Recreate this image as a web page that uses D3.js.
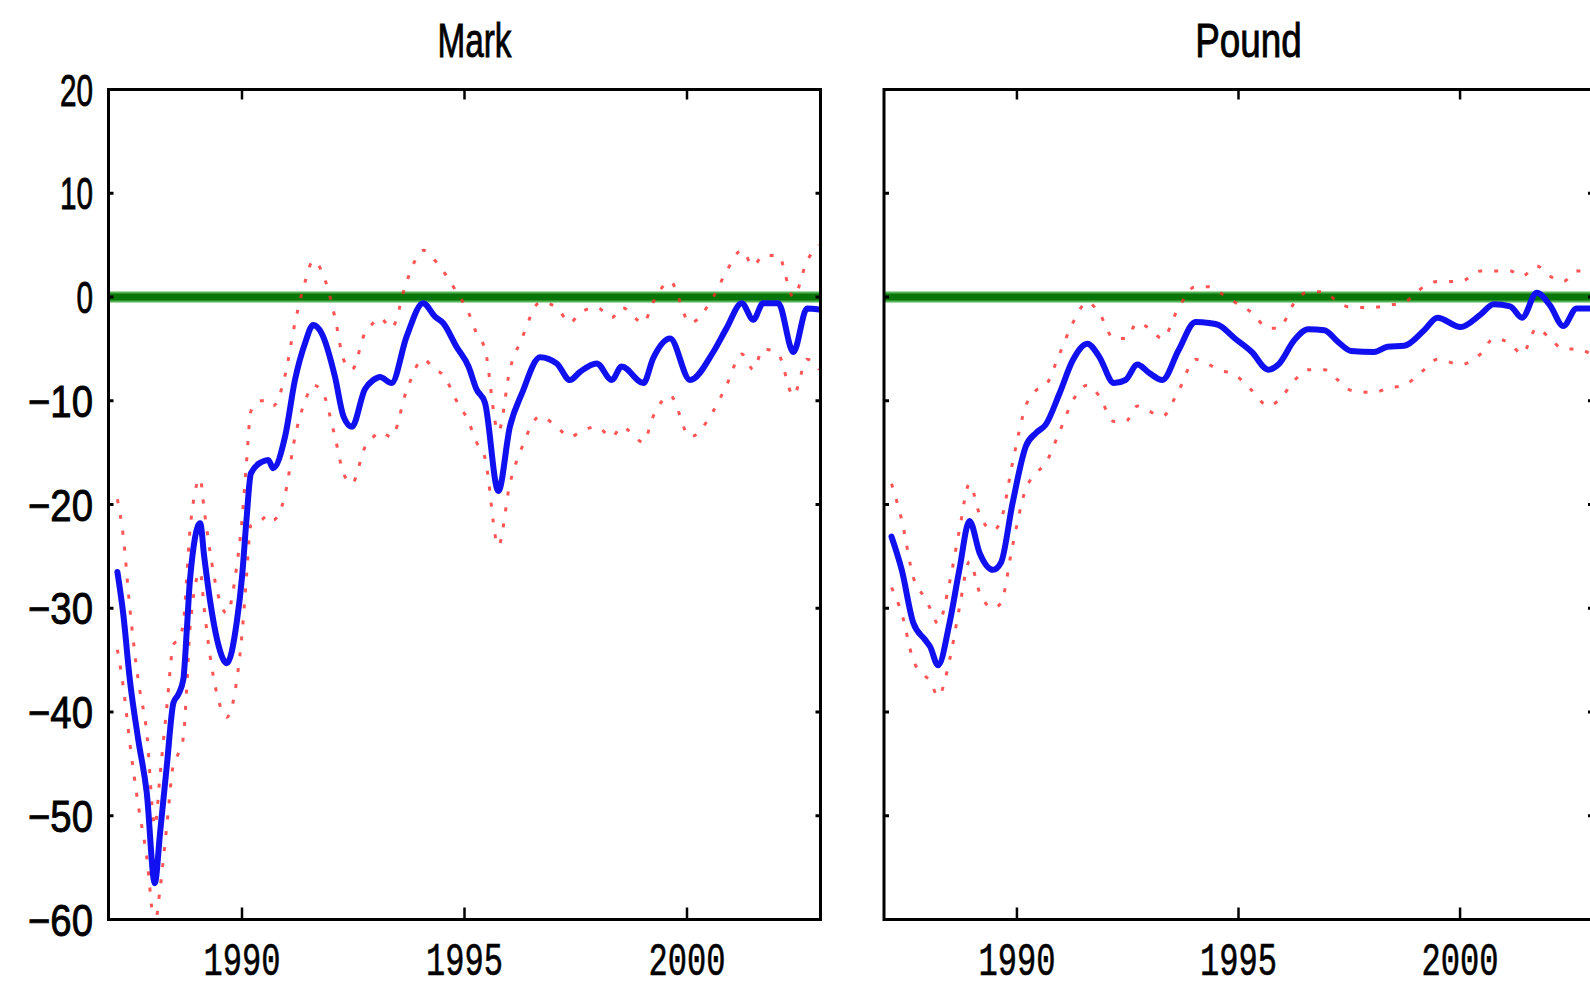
<!DOCTYPE html>
<html>
<head>
<meta charset="utf-8">
<script src="https://cdn.jsdelivr.net/npm/d3@7"></script>
<style>
  html, body { margin: 0; padding: 0; background: #fff; overflow: hidden; }
  svg { display: block; }
</style>
</head>
<body>
<div id="chart"></div>
<script>
// ---- data ----
const yTicks = [20, 10, 0, -10, -20, -30, -40, -50, -60];
const xTicks = [1990, 1995, 2000];
const titles = ["Mark", "Pound"];

const markYears = [1987.2, 1987.33, 1987.48, 1987.67, 1987.86, 1988.04, 1988.16, 1988.31, 1988.46, 1988.57,
    1988.68, 1988.76, 1988.83, 1989.06, 1989.15, 1989.28, 1989.45, 1989.66, 1989.88, 1990.0,
    1990.1, 1990.2, 1990.44, 1990.59, 1990.7, 1990.97, 1991.19, 1991.42, 1991.6, 1991.79,
    1992.09, 1992.28, 1992.47, 1992.76, 1992.95, 1993.1, 1993.36, 1993.7, 1994.07, 1994.34,
    1994.52, 1994.82, 1995.09, 1995.27, 1995.46, 1995.76, 1996.02, 1996.29, 1996.7, 1997.07,
    1997.37, 1997.6, 1997.97, 1998.31, 1998.53, 1999.02, 1999.24, 1999.62, 2000.07, 2000.59,
    2000.89, 2001.23, 2001.49, 2001.71, 2002.05, 2002.39, 2002.7, 2002.96];
const markMid = [-26.5, -30.5, -36.9, -42.7, -47.8, -56.5, -51.6, -45.2, -39.1, -38.3,
    -36.9, -32.1, -27.3, -21.8, -25, -29.2, -33.2, -35.3, -31.4, -27,
    -21.5, -17, -15.9, -15.7, -16.5, -13.4, -8, -4.4, -2.7, -3.5,
    -7.7, -11.5, -12.5, -8.9, -8, -7.7, -8.3, -3.8, -0.6, -1.9,
    -2.5, -4.8, -6.7, -8.9, -10.2, -18.7, -12.5, -9.3, -5.8, -6.4,
    -8, -7.2, -6.4, -8, -6.7, -8.3, -5.9, -4, -8, -5.3,
    -3, -0.6, -2.2, -0.6, -0.6, -5.3, -1.1, -1.2];
const markHi = [-19.5, -23, -30, -37, -42, -51, -46, -39.5, -33.5, -33,
    -31.5, -27, -22.5, -17.5, -20.5, -24.5, -28.5, -30.5, -26, -21.5,
    -16, -11, -10, -10, -10.5, -7.5, -2.5, 1.5, 3.5, 2.5,
    -2, -6, -7, -3.5, -2.5, -2, -3, 1.5, 4.5, 3.5,
    2.5, 0.5, -1.5, -3.5, -5, -13, -7, -4, -0.5, -1,
    -2.5, -1.5, -1, -2, -1, -2.5, -0.5, 1.5, -2.5, 0,
    2.5, 4.5, 3, 4, 4, 0, 3.5, 5];
const markLo = [-34, -37.5, -43, -49, -54, -60.5, -57, -51, -45, -44,
    -42.5, -37.5, -32, -26.5, -30, -34.5, -38.5, -40.5, -37, -32.5,
    -27, -22, -21.5, -21, -21.5, -19, -13.5, -10, -8.5, -9,
    -13.5, -17, -18, -14.5, -13.5, -13, -13.5, -9, -6, -7,
    -7.5, -10, -12, -14, -15.5, -24, -18, -14.5, -11.5, -12.5,
    -13.5, -13, -12.5, -13.5, -12.5, -14, -11.5, -9.5, -13.5, -11,
    -8.5, -5.5, -7, -5, -5.5, -9.5, -6, -7];

const poundYears = [1987.17, 1987.4, 1987.66, 1987.92, 1988.04, 1988.22, 1988.48, 1988.7, 1988.93, 1989.16,
    1989.46, 1989.64, 1989.9, 1990.2, 1990.43, 1990.65, 1990.96, 1991.26, 1991.59, 1991.85,
    1992.19, 1992.45, 1992.72, 1992.98, 1993.28, 1993.65, 1994.03, 1994.33, 1994.55, 1994.92,
    1995.3, 1995.67, 1995.9, 1996.27, 1996.57, 1996.94, 1997.24, 1997.54, 1998.06, 1998.36,
    1998.74, 1999.19, 1999.49, 2000.01, 2000.46, 2000.76, 2001.13, 2001.4, 2001.73, 2002.03,
    2002.33, 2002.63, 2002.95];
const poundMid = [-23.1, -26.3, -31.4, -33, -33.7, -35.5, -31.4, -26.3, -21.6, -24.7,
    -26.3, -25.6, -19.9, -14.4, -13.1, -12.3, -9.3, -6.1, -4.5, -5.7,
    -8.3, -8, -6.5, -7.3, -8, -5.1, -2.4, -2.5, -2.7, -4,
    -5.3, -7, -6.5, -4.1, -3.1, -3.2, -4.3, -5.2, -5.3, -4.8,
    -4.7, -3.2, -2, -2.9, -1.7, -0.7, -0.9, -2, 0.4, -0.8,
    -2.8, -1.1, -1.1];
const poundHi = [-18, -21.5, -27, -29, -30, -31.5, -27.5, -22.5, -18, -21,
    -22.5, -21.5, -16, -10.5, -9, -8.5, -5.5, -2.5, -0.5, -1.5,
    -4, -4, -2.5, -3, -4, -1, 1, 1, 0.5, -0.5,
    -1.5, -3, -3, -0.5, 0.5, 0.5, -0.5, -1, -1, -0.8,
    -0.5, 1, 1.5, 1.5, 2.5, 2.5, 2.5, 2, 3, 2,
    1.5, 2.5, 2.5];
const poundLo = [-28, -30.5, -35, -36.5, -37, -38.5, -35, -30, -25.5, -28.5,
    -30, -29.5, -24, -18.5, -17, -16, -13, -10, -8.5, -9.5,
    -12, -12, -10.5, -11, -11.5, -9, -6, -6.5, -7, -7.5,
    -9, -10.5, -10, -8, -7, -7, -8, -9, -9.2, -8.8,
    -8.5, -7, -6, -6.5, -5.5, -4, -4.5, -5.5, -3, -4,
    -5, -5, -5.5];

// ---- layout ----
const width = 1590, height = 989;
const plotTop = 89.5, plotBottom = 919.5;
const panels = [
    {title: titles[0], x0: 108.5, x1: 820.5, years: markYears, mid: markMid, hi: markHi, lo: markLo, yLabels: true},
    {title: titles[1], x0: 884, x1: 1593, years: poundYears, mid: poundMid, hi: poundHi, lo: poundLo, yLabels: false}
];

const svg = d3.select("#chart").append("svg")
    .attr("width", width)
    .attr("height", height);

const y = d3.scaleLinear().domain([-60, 20]).range([plotBottom, plotTop]);

panels.forEach((p, i) => {
    const x = d3.scaleLinear().domain([1987, 2003]).range([p.x0, p.x1]);
    const g = svg.append("g");

    g.append("clipPath").attr("id", "clip" + i)
        .append("rect")
        .attr("x", p.x0).attr("y", plotTop)
        .attr("width", p.x1 - p.x0).attr("height", plotBottom - plotTop);

    const plot = g.append("g").attr("clip-path", "url(#clip" + i + ")");

    //zero line, soft edge + dark core
    plot.append("line")
        .attr("x1", p.x0).attr("x2", p.x1)
        .attr("y1", y(0)).attr("y2", y(0))
        .attr("stroke", "#55b455")
        .attr("stroke-width", 11);
    plot.append("line")
        .attr("x1", p.x0).attr("x2", p.x1)
        .attr("y1", y(0)).attr("y2", y(0))
        .attr("stroke", "#077507")
        .attr("stroke-width", 7);

    const line = (vals) => d3.line()
        .x((d, k) => x(p.years[k]))
        .y(d => y(d))
        .curve(d3.curveMonotoneX)(vals);

    //confidence bands, dotted red
    [p.hi, p.lo].forEach(band => {
        plot.append("path")
            .attr("d", line(band))
            .attr("fill", "none")
            .attr("stroke", "#ff2a2a")
            .attr("stroke-opacity", 0.8)
            .attr("stroke-width", 3)
            .attr("stroke-dasharray", "4,12");
    });

    //estimate, blue
    plot.append("path")
        .attr("d", line(p.mid))
        .attr("fill", "none")
        .attr("stroke", "#1010f0")
        .attr("stroke-width", 6)
        .attr("stroke-linejoin", "round")
        .attr("stroke-linecap", "round");

    //ticks, inward on all four sides
    g.selectAll(".xtb").data(xTicks).enter().append("line")
        .attr("x1", d => x(d)).attr("x2", d => x(d))
        .attr("y1", plotBottom).attr("y2", plotBottom - 12)
        .attr("stroke", "#000").attr("stroke-width", 2.5);
    g.selectAll(".xtt").data(xTicks).enter().append("line")
        .attr("x1", d => x(d)).attr("x2", d => x(d))
        .attr("y1", plotTop).attr("y2", plotTop + 10)
        .attr("stroke", "#000").attr("stroke-width", 2.5);
    g.selectAll(".ytl").data(yTicks).enter().append("line")
        .attr("x1", p.x0).attr("x2", p.x0 + 5)
        .attr("y1", d => y(d)).attr("y2", d => y(d))
        .attr("stroke", "#000").attr("stroke-width", 3);
    g.selectAll(".ytr").data(yTicks).enter().append("line")
        .attr("x1", p.x1).attr("x2", p.x1 - 5)
        .attr("y1", d => y(d)).attr("y2", d => y(d))
        .attr("stroke", "#000").attr("stroke-width", 3);

    //frame
    g.append("rect")
        .attr("x", p.x0).attr("y", plotTop)
        .attr("width", p.x1 - p.x0).attr("height", plotBottom - plotTop)
        .attr("fill", "none")
        .attr("stroke", "#000")
        .attr("stroke-width", 3);

    //x tick labels
    g.selectAll(".xl").data(xTicks).enter().append("text")
        .attr("x", d => x(d) - 38.5)
        .attr("y", 975)
        .attr("font-family", "'Liberation Mono', monospace")
        .attr("font-size", 46)
        .attr("textLength", 77)
        .attr("lengthAdjust", "spacingAndGlyphs")
        .attr("fill", "#000")
        .attr("stroke", "#000")
        .attr("stroke-width", 0.6)
        .text(d => d);

    //y tick labels
    if (p.yLabels) {
        g.selectAll(".yl").data(yTicks).enter().append("text")
            .attr("x", d => {
                let s = String(Math.abs(d));
                let w = s.length * 16.5 + (d < 0 ? 32 : 0);
                return 93 - w;
            })
            .attr("y", d => y(d) + 16)
            .attr("font-family", "'Liberation Sans', Arial, sans-serif")
            .attr("font-size", 45)
            .attr("textLength", d => String(Math.abs(d)).length * 16.5 + (d < 0 ? 32 : 0))
            .attr("lengthAdjust", "spacingAndGlyphs")
            .attr("fill", "#000")
            .attr("stroke", "#000")
            .attr("stroke-width", 0.9)
            .text(d => (d < 0 ? "\u2212" : "") + Math.abs(d));
    }

    //title
    const tw = p.title.length * 18.5 + (p.title === "Mark" ? 0 : 14);
    g.append("text")
        .attr("x", (p.x0 + p.x1) / 2 + 10 - tw / 2)
        .attr("y", 57)
        .attr("font-family", "'Liberation Sans', Arial, sans-serif")
        .attr("font-size", 48)
        .attr("textLength", tw)
        .attr("lengthAdjust", "spacingAndGlyphs")
        .attr("fill", "#000")
        .attr("stroke", "#000")
        .attr("stroke-width", 0.9)
        .text(p.title);
});
</script>
</body>
</html>
